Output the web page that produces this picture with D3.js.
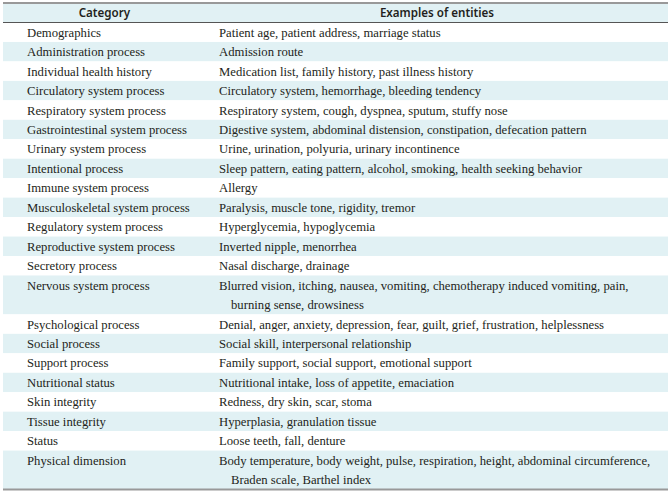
<!DOCTYPE html>
<html>
<head>
<meta charset="utf-8">
<script src="https://cdn.jsdelivr.net/npm/d3@7"></script>
<style>
  body { margin: 0; background: #fff; }
  .head { font-family: "Noto Sans", sans-serif; font-weight: 600; font-size: 11.6px; fill: #231f20; }
  .cell { font-family: "Liberation Serif", "Times New Roman", serif; font-size: 12.7px; fill: #231f20; }
</style>
</head>
<body>
<div id="table"></div>
<script>
var svgWidth = 670;
var svgHeight = 491;

// column headers
var headers = ["Category", "Examples of entities"];

// categories (left column)
var categories = [
  "Demographics",
  "Administration process",
  "Individual health history",
  "Circulatory system process",
  "Respiratory system process",
  "Gastrointestinal system process",
  "Urinary system process",
  "Intentional process",
  "Immune system process",
  "Musculoskeletal system process",
  "Regulatory system process",
  "Reproductive system process",
  "Secretory process",
  "Nervous system process",
  "Psychological process",
  "Social process",
  "Support process",
  "Nutritional status",
  "Skin integrity",
  "Tissue integrity",
  "Status",
  "Physical dimension"
];

// examples (right column), one entry per printed line
var examples = [
  ["Patient age, patient address, marriage status"],
  ["Admission route"],
  ["Medication list, family history, past illness history"],
  ["Circulatory system, hemorrhage, bleeding tendency"],
  ["Respiratory system, cough, dyspnea, sputum, stuffy nose"],
  ["Digestive system, abdominal distension, constipation, defecation pattern"],
  ["Urine, urination, polyuria, urinary incontinence"],
  ["Sleep pattern, eating pattern, alcohol, smoking, health seeking behavior"],
  ["Allergy"],
  ["Paralysis, muscle tone, rigidity, tremor"],
  ["Hyperglycemia, hypoglycemia"],
  ["Inverted nipple, menorrhea"],
  ["Nasal discharge, drainage"],
  ["Blurred vision, itching, nausea, vomiting, chemotherapy induced vomiting, pain,", "burning sense, drowsiness"],
  ["Denial, anger, anxiety, depression, fear, guilt, grief, frustration, helplessness"],
  ["Social skill, interpersonal relationship"],
  ["Family support, social support, emotional support"],
  ["Nutritional intake, loss of appetite, emaciation"],
  ["Redness, dry skin, scar, stoma"],
  ["Hyperplasia, granulation tissue"],
  ["Loose teeth, fall, denture"],
  ["Body temperature, body weight, pulse, respiration, height, abdominal circumference,", "Braden scale, Barthel index"]
];

// build rows with line offsets
var rows = [];
var lineStart = 0;
categories.forEach(function(cat, i) {
  rows.push({ category: cat, lines: examples[i], start: lineStart, index: i });
  lineStart += examples[i].length;
});
var totalLines = lineStart;

var svg = d3.select("#table")
  .append("svg")
  .attr("width", svgWidth)
  .attr("height", svgHeight);

// scales: x for columns, y for printed lines
var x = d3.scaleLinear().domain([0, 1]).range([3, 668]);
var colSplit = 0.305;
var y = d3.scaleLinear().domain([0, totalLines]).range([22.5, 489.5]);

// header band
svg.append("rect")
  .attr("x", x(0)).attr("y", 3)
  .attr("width", x(1) - x(0)).attr("height", y(0) - 3)
  .attr("fill", "#e1f1f4");

svg.selectAll("text.head")
  .data(headers)
  .enter()
  .append("text")
  .attr("class", "head")
  .attr("x", (d, i) => i === 0 ? (x(0) + x(colSplit)) / 2 : (x(colSplit) + x(1)) / 2)
  .attr("y", (3 + y(0)) / 2)
  .attr("dy", "0.36em")
  .attr("text-anchor", "middle")
  .text(d => d);

// row bands
var rowGroup = svg.selectAll("g.row")
  .data(rows)
  .enter()
  .append("g")
  .attr("class", "row");

rowGroup.append("rect")
  .attr("x", x(0))
  .attr("y", d => y(d.start))
  .attr("width", x(1) - x(0))
  .attr("height", d => y(d.start + d.lines.length) - y(d.start))
  .attr("fill", d => d.index % 2 === 1 ? "#e1f1f4" : "#ffffff");

rowGroup.append("text")
  .attr("class", "cell")
  .attr("x", 27)
  .attr("y", d => (y(d.start) + y(d.start + 1)) / 2)
  .attr("dy", "0.35em")
  .text(d => d.category);

rowGroup.selectAll("text.ex")
  .data(d => d.lines.map((t, j) => ({ text: t, line: d.start + j, wrap: j > 0 })))
  .enter()
  .append("text")
  .attr("class", "cell ex")
  .attr("x", d => d.wrap ? 231 : 219)
  .attr("y", d => (y(d.line) + y(d.line + 1)) / 2)
  .attr("dy", "0.35em")
  .text(d => d.text);

// rules
svg.append("line")
  .attr("x1", x(0)).attr("x2", x(1))
  .attr("y1", 3).attr("y2", 3)
  .attr("stroke", "#999").attr("stroke-width", 2);

svg.append("line")
  .attr("x1", x(0)).attr("x2", x(1))
  .attr("y1", y(0)).attr("y2", y(0))
  .attr("stroke", "#555").attr("stroke-width", 1);

svg.append("line")
  .attr("x1", x(0)).attr("x2", x(1))
  .attr("y1", y(totalLines)).attr("y2", y(totalLines))
  .attr("stroke", "#999").attr("stroke-width", 2);
</script>
</body>
</html>
